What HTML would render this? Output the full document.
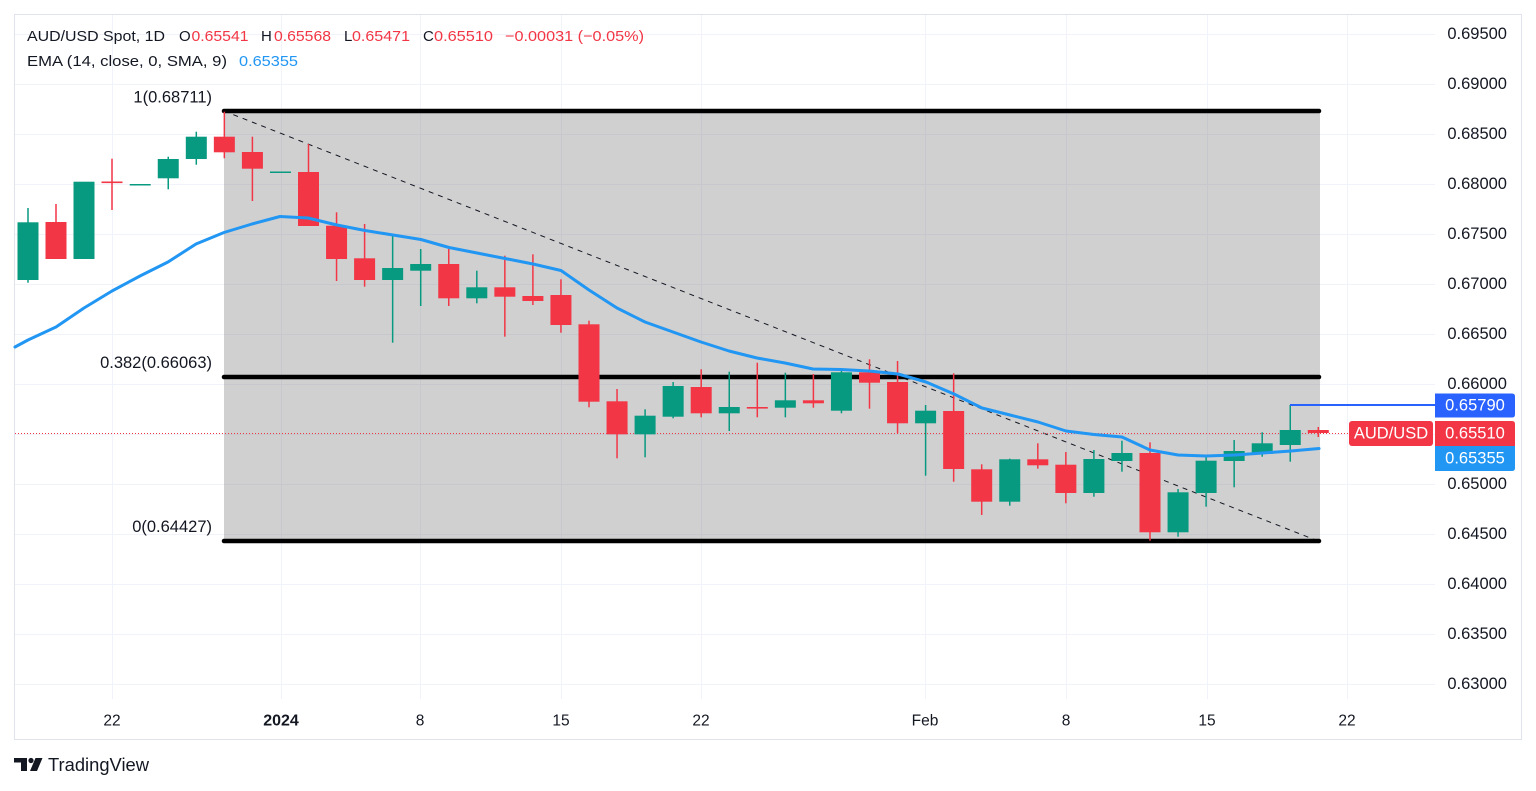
<!DOCTYPE html>
<html>
<head>
<meta charset="utf-8">
<style>
html,body{margin:0;padding:0;background:#fff;}
svg{display:block;}
text{font-family:"Liberation Sans","DejaVu Sans",sans-serif;}
</style>
</head>
<body>
<svg width="1536" height="791" viewBox="0 0 1536 791" xmlns="http://www.w3.org/2000/svg">
<rect x="0" y="0" width="1536" height="791" fill="#ffffff"/>
<!-- frame -->
<rect x="14.5" y="14.5" width="1507" height="725" fill="none" stroke="#e0e3eb" stroke-width="1"/>
<!-- grid horizontal -->
<g stroke="#f0f3fa" stroke-width="1">
<line x1="15" y1="34.5" x2="1435" y2="34.5"/>
<line x1="15" y1="84.5" x2="1435" y2="84.5"/>
<line x1="15" y1="134.5" x2="1435" y2="134.5"/>
<line x1="15" y1="184.5" x2="1435" y2="184.5"/>
<line x1="15" y1="234.5" x2="1435" y2="234.5"/>
<line x1="15" y1="284.5" x2="1435" y2="284.5"/>
<line x1="15" y1="334.5" x2="1435" y2="334.5"/>
<line x1="15" y1="384.5" x2="1435" y2="384.5"/>
<line x1="15" y1="434.5" x2="1435" y2="434.5"/>
<line x1="15" y1="484.5" x2="1435" y2="484.5"/>
<line x1="15" y1="534.5" x2="1435" y2="534.5"/>
<line x1="15" y1="584.5" x2="1435" y2="584.5"/>
<line x1="15" y1="634.5" x2="1435" y2="634.5"/>
<line x1="15" y1="684.5" x2="1435" y2="684.5"/>
</g>
<g stroke="#f0f3fa" stroke-width="1">
<line x1="112.5" y1="15" x2="112.5" y2="699"/>
<line x1="281.5" y1="15" x2="281.5" y2="699"/>
<line x1="420.5" y1="15" x2="420.5" y2="699"/>
<line x1="561.5" y1="15" x2="561.5" y2="699"/>
<line x1="701.5" y1="15" x2="701.5" y2="699"/>
<line x1="925.5" y1="15" x2="925.5" y2="699"/>
<line x1="1066.5" y1="15" x2="1066.5" y2="699"/>
<line x1="1207.5" y1="15" x2="1207.5" y2="699"/>
<line x1="1347.5" y1="15" x2="1347.5" y2="699"/>
</g>

<!-- fib gray area -->
<rect x="224" y="111" width="1096" height="430" fill="rgba(128,128,128,0.37)"/>

<!-- dashed trend line -->
<line x1="224" y1="111" x2="1318" y2="541" stroke="#131722" stroke-width="1" stroke-dasharray="5,5"/>

<!-- fib lines -->
<g stroke="#000" stroke-width="4.5" stroke-linecap="round">
<line x1="224" y1="111" x2="1319" y2="111"/>
<line x1="224" y1="377" x2="1319" y2="377"/>
<line x1="224" y1="541" x2="1319" y2="541"/>
</g>

<!-- price line dotted -->
<line x1="15" y1="433.5" x2="1349" y2="433.5" stroke="#f23645" stroke-width="1" stroke-dasharray="1,2"/>

<!-- candles -->
<g>
<rect x="27.25" y="208" width="1.5" height="74.7" fill="#089981"/><rect x="17.5" y="222.3" width="21" height="57.7" fill="#089981"/>
<rect x="55.25" y="204" width="1.5" height="55" fill="#f23645"/><rect x="45.5" y="222" width="21" height="37" fill="#f23645"/>
<rect x="73.5" y="181.7" width="21" height="77.3" fill="#089981"/>
<rect x="111.25" y="158.7" width="1.5" height="51.3" fill="#f23645"/><rect x="101.5" y="181.5" width="21" height="1.6" fill="#f23645"/>
<rect x="129.7" y="184" width="21" height="1.5" fill="#089981"/>
<rect x="167.5" y="156.7" width="1.5" height="32.6" fill="#089981"/><rect x="157.75" y="159" width="21" height="19.3" fill="#089981"/>
<rect x="195.55" y="131.7" width="1.5" height="33" fill="#089981"/><rect x="185.8" y="136.7" width="21" height="22.3" fill="#089981"/>
<rect x="223.6" y="111.7" width="1.5" height="46.6" fill="#f23645"/><rect x="213.85" y="136.7" width="21" height="15.6" fill="#f23645"/>
<rect x="251.65" y="136.7" width="1.5" height="64.3" fill="#f23645"/><rect x="241.9" y="152" width="21" height="16.7" fill="#f23645"/>
<rect x="269.95" y="171.5" width="21" height="1.5" fill="#089981"/>
<rect x="307.75" y="144" width="1.5" height="82" fill="#f23645"/><rect x="298" y="172" width="21" height="54" fill="#f23645"/>
<rect x="335.8" y="212.3" width="1.5" height="68.7" fill="#f23645"/><rect x="326.05" y="225.7" width="21" height="33.3" fill="#f23645"/>
<rect x="363.85" y="224" width="1.5" height="62.7" fill="#f23645"/><rect x="354.1" y="258.3" width="21" height="21.7" fill="#f23645"/>
<rect x="391.9" y="235" width="1.5" height="107.7" fill="#089981"/><rect x="382.15" y="268" width="21" height="12" fill="#089981"/>
<rect x="419.95" y="249" width="1.5" height="57" fill="#089981"/><rect x="410.2" y="264" width="21" height="6.7" fill="#089981"/>
<rect x="448" y="249" width="1.5" height="57" fill="#f23645"/><rect x="438.25" y="264" width="21" height="34.3" fill="#f23645"/>
<rect x="476.05" y="270.7" width="1.5" height="32.6" fill="#089981"/><rect x="466.3" y="287.3" width="21" height="11" fill="#089981"/>
<rect x="504.1" y="255.7" width="1.5" height="81" fill="#f23645"/><rect x="494.35" y="287.3" width="21" height="9.4" fill="#f23645"/>
<rect x="532.15" y="254.3" width="1.5" height="50.7" fill="#f23645"/><rect x="522.4" y="296" width="21" height="5" fill="#f23645"/>
<rect x="560.2" y="279.3" width="1.5" height="53.4" fill="#f23645"/><rect x="550.45" y="295" width="21" height="30" fill="#f23645"/>
<rect x="588.25" y="320.7" width="1.5" height="86.6" fill="#f23645"/><rect x="578.5" y="324.3" width="21" height="77.4" fill="#f23645"/>
<rect x="616.3" y="389" width="1.5" height="69.3" fill="#f23645"/><rect x="606.55" y="401.3" width="21" height="33" fill="#f23645"/>
<rect x="644.35" y="409.3" width="1.5" height="48" fill="#089981"/><rect x="634.6" y="415.7" width="21" height="18.6" fill="#089981"/>
<rect x="672.4" y="382" width="1.5" height="36.3" fill="#089981"/><rect x="662.65" y="386" width="21" height="30.7" fill="#089981"/>
<rect x="700.45" y="369.3" width="1.5" height="48" fill="#f23645"/><rect x="690.7" y="387" width="21" height="26.3" fill="#f23645"/>
<rect x="728.5" y="371.7" width="1.5" height="59.3" fill="#089981"/><rect x="718.75" y="407" width="21" height="6.3" fill="#089981"/>
<rect x="756.55" y="362.7" width="1.5" height="54.6" fill="#f23645"/><rect x="746.8" y="407" width="21" height="1.6" fill="#f23645"/>
<rect x="784.6" y="372.7" width="1.5" height="44.6" fill="#089981"/><rect x="774.85" y="400.3" width="21" height="7.4" fill="#089981"/>
<rect x="812.65" y="374" width="1.5" height="33.7" fill="#f23645"/><rect x="802.9" y="400.3" width="21" height="3" fill="#f23645"/>
<rect x="840.7" y="368.3" width="1.5" height="45" fill="#089981"/><rect x="830.95" y="372.3" width="21" height="38.4" fill="#089981"/>
<rect x="868.75" y="359.3" width="1.5" height="49.4" fill="#f23645"/><rect x="859" y="372.3" width="21" height="10.4" fill="#f23645"/>
<rect x="896.8" y="361" width="1.5" height="72.3" fill="#f23645"/><rect x="887.05" y="382" width="21" height="41.3" fill="#f23645"/>
<rect x="924.85" y="405" width="1.5" height="70.7" fill="#089981"/><rect x="915.1" y="410.7" width="21" height="12.6" fill="#089981"/>
<rect x="952.9" y="373.3" width="1.5" height="108.4" fill="#f23645"/><rect x="943.15" y="411" width="21" height="58" fill="#f23645"/>
<rect x="980.95" y="464.3" width="1.5" height="50.7" fill="#f23645"/><rect x="971.2" y="469.3" width="21" height="32.4" fill="#f23645"/>
<rect x="1009" y="458.7" width="1.5" height="47" fill="#089981"/><rect x="999.25" y="459.3" width="21" height="42.4" fill="#089981"/>
<rect x="1037.05" y="443.3" width="1.5" height="25.4" fill="#f23645"/><rect x="1027.3" y="459.3" width="21" height="6" fill="#f23645"/>
<rect x="1065.1" y="452" width="1.5" height="51.3" fill="#f23645"/><rect x="1055.35" y="464.7" width="21" height="28.3" fill="#f23645"/>
<rect x="1093.15" y="450" width="1.5" height="46.7" fill="#089981"/><rect x="1083.4" y="459" width="21" height="34" fill="#089981"/>
<rect x="1121.2" y="440.7" width="1.5" height="31" fill="#089981"/><rect x="1111.45" y="453" width="21" height="8" fill="#089981"/>
<rect x="1149.25" y="442.3" width="1.5" height="98.4" fill="#f23645"/><rect x="1139.5" y="453" width="21" height="79.3" fill="#f23645"/>
<rect x="1177.3" y="489" width="1.5" height="47.7" fill="#089981"/><rect x="1167.55" y="492.3" width="21" height="40" fill="#089981"/>
<rect x="1205.35" y="455" width="1.5" height="51.7" fill="#089981"/><rect x="1195.6" y="460.7" width="21" height="32.3" fill="#089981"/>
<rect x="1233.4" y="440" width="1.5" height="47.3" fill="#089981"/><rect x="1223.65" y="451" width="21" height="10" fill="#089981"/>
<rect x="1261.45" y="432.3" width="1.5" height="24.4" fill="#089981"/><rect x="1251.7" y="443.3" width="21" height="10.7" fill="#089981"/>
<rect x="1289.5" y="405" width="1.5" height="56.7" fill="#089981"/><rect x="1279.75" y="430" width="21" height="15" fill="#089981"/>
<rect x="1317.55" y="427" width="1.5" height="10" fill="#f23645"/><rect x="1307.8" y="430" width="21" height="3" fill="#f23645"/>
</g>

<!-- EMA -->
<polyline fill="none" stroke="#2196f3" stroke-width="3" stroke-linejoin="round" stroke-linecap="round"
points="15,347 28,340 56,327 84,308 112,291 140,276 168,262 196,244 224,232.5 252,224 280,216.5 308,218 337,225 365,230.5 393,235 421,239.5 449,247.5 477,253 505,258.5 533,264 561,270.5 589,290 617,308 645,322 673,332 701,342 729,351 757,358 785,363 813,369 841,369.5 869,371 898,374 926,382 954,394 982,408 1010,415 1038,422 1066,431 1094,434.5 1122,437 1150,450 1178,455 1206,456 1235,455 1263,453 1291,451 1319,448.5"/>

<!-- high line -->
<line x1="1290" y1="405" x2="1436" y2="405" stroke="#2962ff" stroke-width="2"/>

<!-- fib labels -->
<g font-size="16.5" fill="#131722" text-anchor="end" dominant-baseline="central">
<text x="212" y="97.5">1(0.68711)</text>
<text x="212" y="363">0.382(0.66063)</text>
<text x="212" y="527">0(0.64427)</text>
</g>

<!-- header -->
<g font-size="15" dominant-baseline="central">
<text x="27" y="36.5" fill="#131722" textLength="138" lengthAdjust="spacingAndGlyphs">AUD/USD Spot, 1D</text>
<text x="179" y="36.5" fill="#131722">O</text>
<text x="191.5" y="36.5" fill="#f23645" textLength="57" lengthAdjust="spacingAndGlyphs">0.65541</text>
<text x="261" y="36.5" fill="#131722">H</text>
<text x="274" y="36.5" fill="#f23645" textLength="57" lengthAdjust="spacingAndGlyphs">0.65568</text>
<text x="344" y="36.5" fill="#131722">L</text>
<text x="352" y="36.5" fill="#f23645" textLength="58" lengthAdjust="spacingAndGlyphs">0.65471</text>
<text x="423" y="36.5" fill="#131722">C</text>
<text x="434" y="36.5" fill="#f23645" textLength="59" lengthAdjust="spacingAndGlyphs">0.65510</text>
<text x="505" y="36.5" fill="#f23645" textLength="139" lengthAdjust="spacingAndGlyphs">−0.00031 (−0.05%)</text>
<text x="27" y="61.5" fill="#131722" textLength="200" lengthAdjust="spacingAndGlyphs">EMA (14, close, 0, SMA, 9)</text>
<text x="239" y="61.5" fill="#2196f3" textLength="59" lengthAdjust="spacingAndGlyphs">0.65355</text>
</g>

<!-- price axis -->
<g font-size="16.5" fill="#131722" text-anchor="end" dominant-baseline="central">
<text x="1507" y="34">0.69500</text>
<text x="1507" y="84">0.69000</text>
<text x="1507" y="134">0.68500</text>
<text x="1507" y="184">0.68000</text>
<text x="1507" y="234">0.67500</text>
<text x="1507" y="284">0.67000</text>
<text x="1507" y="334">0.66500</text>
<text x="1507" y="384">0.66000</text>
<text x="1507" y="484">0.65000</text>
<text x="1507" y="534">0.64500</text>
<text x="1507" y="584">0.64000</text>
<text x="1507" y="634">0.63500</text>
<text x="1507" y="684">0.63000</text>
</g>

<!-- price boxes -->
<path d="M1435,393.5 H1512 Q1515,393.5 1515,396.5 V414.5 Q1515,417.5 1512,417.5 H1435 Z" fill="#2962ff"/>
<rect x="1349" y="421" width="84" height="25" rx="3" fill="#f23645"/>
<path d="M1435,421 H1512 Q1515,421 1515,424 V446 H1435 Z" fill="#f23645"/>
<path d="M1435,446 H1515 V468 Q1515,471 1512,471 H1435 Z" fill="#2196f3"/>
<g font-size="16.5" fill="#ffffff" text-anchor="middle" dominant-baseline="central">
<text x="1475" y="405.5">0.65790</text>
<text x="1391" y="433.5">AUD/USD</text>
<text x="1475" y="433.5">0.65510</text>
<text x="1475" y="458.5">0.65355</text>
</g>

<!-- time axis -->
<g font-size="15.5" fill="#131722" text-anchor="middle" dominant-baseline="central">
<text x="112" y="721">22</text>
<text x="281" y="721" font-weight="bold" font-size="16">2024</text>
<text x="420" y="721">8</text>
<text x="561" y="721">15</text>
<text x="701" y="721">22</text>
<text x="925" y="721">Feb</text>
<text x="1066" y="721">8</text>
<text x="1207" y="721">15</text>
<text x="1347" y="721">22</text>
</g>

<!-- TradingView logo -->
<g fill="#131722">
<path d="M14,758 H27 V771 H21 V762.5 H14 Z"/>
<circle cx="31" cy="760.5" r="2.6"/>
<path d="M35.5,758 H42.5 L37,771 H30 Z"/>
<text x="48" y="771" font-size="18" textLength="101" lengthAdjust="spacingAndGlyphs">TradingView</text>
</g>
</svg>
</body>
</html>
